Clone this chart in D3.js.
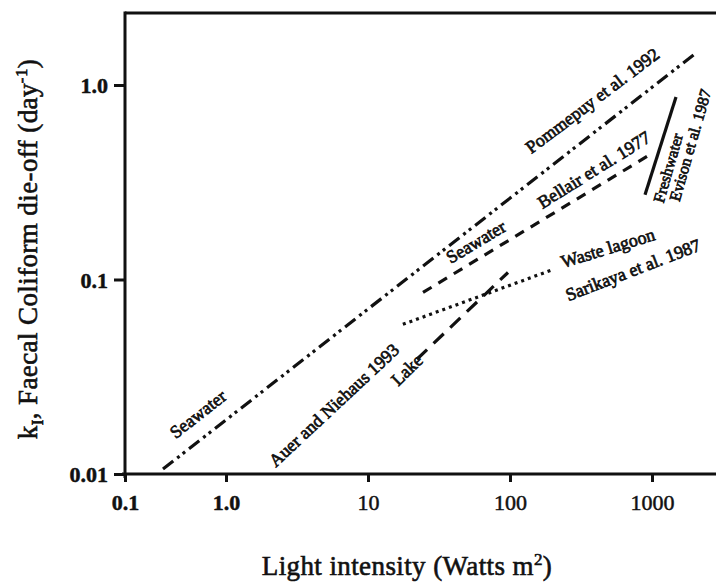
<!DOCTYPE html>
<html>
<head>
<meta charset="utf-8">
<script src="https://cdn.jsdelivr.net/npm/d3@7"></script>
<style>
  html, body { margin: 0; padding: 0; background: #fff; }
  svg { display: block; }
  text { font-family: "Liberation Serif", "Times New Roman", serif; fill: #111; }
</style>
</head>
<body>
<svg id="chart" width="716" height="582"></svg>
<script>
// Axis domains (log–log); the x axis is broken at its origin, which carries the "0.1" label.
const xDomain = [0.1944, 2823];
const yDomain = [0.01, 2.345];
const xTickValues = [0.1944, 1, 10, 100, 1000];
const xTickLabels = ["0.1", "1.0", "10", "100", "1000"];
const yTickValues = [0.01, 0.1, 1];
const yTickLabels = ["0.01", "0.1", "1.0"];

// Die-off rate k_I versus light intensity, one fitted segment per study: [light, k]
const pommepuy1992 = [[0.36, 0.0106], [2040, 1.46]];
const bellair1977  = [[24.4, 0.0858], [1016, 0.448]];
const auer1993     = [[22.1, 0.0389], [96.8, 0.1086]];
const sarikaya1987 = [[17.6, 0.0588], [201, 0.1125]];
const evison1987   = [[893, 0.273], [1476, 0.868]];

// Study labels: text, anchor [light, k], rotation
const labelTexts   = ["Seawater", "Pommepuy et al. 1992", "Seawater", "Bellair et al. 1977",
                      "Auer and Niehaus 1993", "Lake", "Waste lagoon", "Sarikaya et al. 1987",
                      "Freshwater", "Evison et al. 1987"];
const labelAnchors = [[0.635, 0.0203], [380, 0.83], [57.6, 0.156], [390, 0.366],
                      [5.76, 0.0226], [18.8, 0.0343], [490, 0.145], [735, 0.112],
                      [1296, 0.3744], [1855, 0.4903]];
const labelAngles  = [-38, -37, -31, -32, -43, -44, -17, -21, -74, -74];

const plot = { left: 125, right: 716, top: 13, bottom: 474 };

const svg = d3.select("#chart");

const x = d3.scaleLog().domain(xDomain).range([plot.left, plot.right]);
const y = d3.scaleLog().domain(yDomain).range([plot.bottom, plot.top]);

// Frame: top rule, left and bottom axes
svg.append("line")
  .attr("x1", plot.left).attr("x2", plot.right)
  .attr("y1", plot.top).attr("y2", plot.top)
  .attr("stroke", "#111").attr("stroke-width", 3);

const xAxis = d3.axisBottom(x)
  .tickValues(xTickValues)
  .tickFormat((d, i) => xTickLabels[i])
  .tickSizeInner(8).tickSizeOuter(0).tickPadding(12);

const yAxis = d3.axisLeft(y)
  .tickValues(yTickValues)
  .tickFormat((d, i) => yTickLabels[i])
  .tickSizeInner(11).tickSizeOuter(0).tickPadding(6);

const gx = svg.append("g").attr("transform", `translate(0,${plot.bottom})`).call(xAxis);
const gy = svg.append("g").attr("transform", `translate(${plot.left},0)`).call(yAxis);

[gx, gy].forEach(g => {
  g.select(".domain").attr("stroke", "#111").attr("stroke-width", 3);
  g.selectAll(".tick line").attr("stroke", "#111").attr("stroke-width", 3);
  g.selectAll(".tick text")
    .attr("fill", "#111")
    .style("font-family", '"Liberation Serif", "Times New Roman", serif')
    .style("font-size", "22px")
    .style("stroke", "#111").style("stroke-width", 0.5);
});
gx.select(".domain").attr("d", `M${plot.left - 3},0H${plot.right}`);
gy.select(".domain").attr("d", `M0,${plot.top - 1.5}V${plot.bottom + 4}`);
gx.selectAll(".tick text")
  .style("font-weight", (d, i) => i < 2 ? "bold" : "normal");
gy.selectAll(".tick text").style("font-weight", "bold").attr("dy", "0.36em");

// Study lines
const line = d3.line().x(d => x(d[0])).y(d => y(d[1]));
const studies = [
  { data: pommepuy1992, dash: "13,5,3,4,3,5" },
  { data: bellair1977,  dash: "10,8" },
  { data: auer1993,     dash: "14,9" },
  { data: sarikaya1987, dash: "3,4" },
  { data: evison1987,   dash: null }
];
svg.append("g").selectAll("path")
  .data(studies)
  .join("path")
  .attr("d", d => line(d.data))
  .attr("fill", "none")
  .attr("stroke", "#111")
  .attr("stroke-width", 3.2)
  .attr("stroke-dasharray", d => d.dash);

// Study labels
svg.append("g").selectAll("text")
  .data(labelTexts)
  .join("text")
  .attr("transform", (d, i) => {
    const a = labelAnchors[i];
    return `translate(${x(a[0])},${y(a[1])}) rotate(${labelAngles[i]})`;
  })
  .attr("text-anchor", "middle")
  .attr("dominant-baseline", "central")
  .style("font-size", (d, i) => i >= 8 ? "16px" : "18px")
  .style("stroke", "#111").style("stroke-width", 0.7)
  .text(d => d);

// Axis titles
const xt = svg.append("text")
  .attr("x", 407).attr("y", 575)
  .attr("text-anchor", "middle")
  .style("font-size", "27px")
  .style("letter-spacing", "0.4px")
  .style("stroke", "#111").style("stroke-width", 0.6);
xt.append("tspan").text("Light intensity (Watts m");
xt.append("tspan").attr("dy", -10).style("font-size", "17px").text("2");
xt.append("tspan").attr("dy", 10).text(")");

const yt = svg.append("text")
  .attr("transform", `translate(37,249) rotate(-90)`)
  .attr("text-anchor", "middle")
  .style("font-size", "27px")
  .style("letter-spacing", "0.4px")
  .style("stroke", "#111").style("stroke-width", 0.6);
yt.append("tspan").text("k");
yt.append("tspan").attr("dy", 6).style("font-size", "17px").text("I");
yt.append("tspan").attr("dy", -6).text(", Faecal Coliform die-off (day");
yt.append("tspan").attr("dy", -10).style("font-size", "17px").text("-1");
yt.append("tspan").attr("dy", 10).text(")");
</script>
</body>
</html>
